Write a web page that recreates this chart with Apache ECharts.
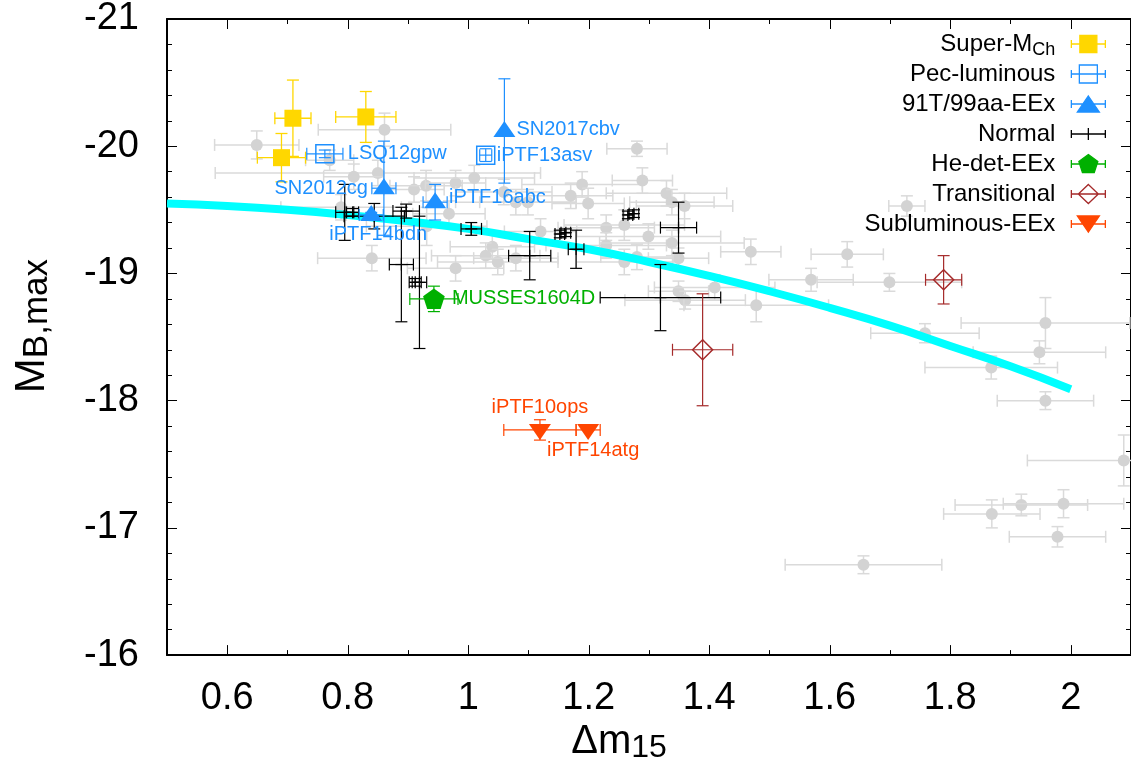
<!DOCTYPE html>
<html>
<head>
<meta charset="utf-8">
<script src="https://cdn.jsdelivr.net/npm/echarts@6/dist/echarts.min.js"></script>
<style>
  html, body { margin: 0; padding: 0; background: #fff; }
  #chart { width: 1131px; height: 769px; }
</style>
</head>
<body>
<div id="chart"></div>
<script>
// ---------- axis ticks ----------
const xTickValues = [0.6, 0.8, 1.0, 1.2, 1.4, 1.6, 1.8, 2.0];
const xMinorTickValues = [0.7, 0.9, 1.1, 1.3, 1.5, 1.7, 1.9];
const yTickValues = [-21, -20, -19, -18, -17, -16];

// ---------- width-luminosity relation ----------
const fitDm15 = [0.5, 0.6, 0.7, 0.8, 0.9, 1.0, 1.1, 1.2, 1.3, 1.4, 1.5, 1.6, 1.7, 1.8, 1.9, 2.0];
const fitMB = [-19.55, -19.53, -19.50, -19.46, -19.41, -19.35, -19.27, -19.19, -19.09, -18.98, -18.86, -18.73, -18.59, -18.43, -18.27, -18.09];

// ---------- comparison sample ----------
const sampleDm15 = [0.649, 0.861, 0.770, 0.850, 0.810, 0.910, 0.930, 0.979, 1.010, 0.840,
  0.979, 0.931, 0.968, 0.789, 1.040, 1.029, 1.049, 1.079, 1.059, 1.079,
  1.099, 1.120, 1.170, 1.189, 1.199, 1.229, 1.259, 1.229, 1.259, 1.280,
  1.289, 1.299, 1.329, 1.338, 1.359, 1.338, 1.349, 1.349, 1.360, 1.409,
  1.469, 1.478, 1.280, 1.728, 1.629, 1.569, 1.699, 1.758, 1.958, 1.948,
  1.868, 1.958, 2.088, 1.918, 1.988, 1.869, 1.978, 1.656];
const sampleDm15Err = [0.07, 0.11, 0.04, 0.27, 0.05, 0.05, 0.06, 0.05, 0.10, 0.09,
  0.08, 0.10, 0.06, 0.10, 0.07, 0.09, 0.10, 0.07, 0.08, 0.10,
  0.08, 0.06, 0.07, 0.10, 0.06, 0.08, 0.10, 0.10, 0.08, 0.05,
  0.05, 0.12, 0.10, 0.07, 0.08, 0.12, 0.05, 0.05, 0.10, 0.10,
  0.05, 0.12, 0.06, 0.03, 0.06, 0.07, 0.12, 0.09, 0.14, 0.11,
  0.11, 0.08, 0.16, 0.11, 0.10, 0.08, 0.08, 0.13];
const sampleMB = [-20.01, -20.13, -19.89, -19.79, -19.76, -19.66, -19.69, -19.71, -19.75, -19.12,
  -19.04, -19.37, -19.47, -19.52, -19.21, -19.14, -19.09, -19.12, -19.64, -19.56,
  -19.56, -19.33, -19.61, -19.70, -19.55, -19.36, -19.38, -19.22, -19.09, -19.98,
  -19.73, -19.29, -19.63, -19.56, -19.53, -19.24, -19.12, -18.86, -18.79, -18.89,
  -19.17, -18.75, -19.13, -19.53, -19.15, -18.95, -18.93, -18.53, -18.61, -18.38,
  -18.26, -18.00, -17.53, -17.18, -17.19, -17.11, -16.93, -16.71];
const sampleMBErr = [0.11, 0.13, 0.08, 0.10, 0.10, 0.10, 0.12, 0.10, 0.10, 0.10,
  0.10, 0.15, 0.10, 0.10, 0.10, 0.10, 0.10, 0.10, 0.10, 0.10,
  0.10, 0.10, 0.10, 0.10, 0.12, 0.10, 0.12, 0.10, 0.10, 0.06,
  0.10, 0.10, 0.10, 0.10, 0.10, 0.10, 0.08, 0.08, 0.07, 0.10,
  0.10, 0.13, 0.10, 0.08, 0.10, 0.09, 0.07, 0.075, 0.20, 0.09,
  0.09, 0.07, 0.20, 0.085, 0.11, 0.11, 0.08, 0.07];

// ---------- Super-MCh ----------
const superMchDm15 = [0.709, 0.830, 0.690];
const superMchDm15Err = [0.03, 0.05, 0.04];
const superMchMB = [-20.22, -20.23, -19.91];
const superMchMBErr = [0.30, 0.20, 0.19];

// ---------- Pec-luminous ----------
const pecLumNames = ['LSQ12gpw', 'iPTF13asv'];
const pecLumDm15 = [0.762, 1.029];
const pecLumDm15Err = [0.03, 0.01];
const pecLumMB = [-19.94, -19.93];
const pecLumMBErr = [0.03, 0.05];

// ---------- 91T/99aa-like early excess ----------
const eex91TNames = ['SN2017cbv', 'SN2012cg', 'iPTF16abc', 'iPTF14bdn'];
const eex91TDm15 = [1.060, 0.860, 0.945, 0.839];
const eex91TDm15Err = [0, 0.02, 0.02, 0.02];
const eex91TMB = [-20.12, -19.67, -19.56, -19.46];
const eex91TMBErr = [0.41, 0.37, 0.14, 0.02];

// ---------- Normal ----------
const normalDm15 = [0.795, 0.808, 0.844, 0.897, 0.889, 0.912, 0.919, 1.005, 1.102, 1.152,
  1.162, 1.179, 1.265, 1.275, 1.349, 1.319];
const normalDm15Err = [0.015, 0.010, 0.05, 0.022, 0.02, 0.010, 0.012, 0.017, 0.035, 0.008,
  0.008, 0.013, 0.008, 0.008, 0.03, 0.10];
const normalMB = [-19.48, -19.48, -19.45, -19.49, -19.07, -18.93, -18.93, -19.35, -19.14, -19.31,
  -19.32, -19.19, -19.46, -19.47, -19.36, -18.81];
const normalMBErr = [0.22, 0.03, 0.10, 0.055, 0.45, 0.03, 0.52, 0.05, 0.19, 0.03,
  0.03, 0.15, 0.03, 0.03, 0.20, 0.26];

// ---------- He-detonation early excess ----------
const heDetNames = ['MUSSES1604D'];
const heDetDm15 = [0.943];
const heDetDm15Err = [0.04];
const heDetMB = [-18.80];
const heDetMBErr = [0.10];

// ---------- Transitional ----------
const transDm15 = [1.389, 1.789];
const transDm15Err = [0.05, 0.03];
const transMB = [-18.40, -18.95];
const transMBErr = [0.44, 0.19];

// ---------- Subluminous early excess ----------
const sublumNames = ['iPTF10ops', 'iPTF14atg'];
const sublumDm15 = [1.119, 1.199];
const sublumDm15Err = [0.06, 0.02];
const sublumMB = [-17.77, -17.77];
const sublumMBErr = [0.08, 0];

// ---------- styling ----------
const FONT = '"Liberation Sans", Arial, Helvetica, sans-serif';
const CAP = 6;
const labelPlacement = {
  LSQ12gpw:   { dx: 23, dy: 0, align: 'left' },
  iPTF13asv:  { dx: 11, dy: 0, align: 'left' },
  SN2017cbv:  { dx: 12, dy: -1, align: 'left' },
  SN2012cg:   { dx: -16, dy: 0, align: 'right' },
  iPTF16abc:  { dx: 14, dy: -5, align: 'left' },
  iPTF14bdn:  { dx: 7, dy: 20, align: 'center' },
  MUSSES1604D:{ dx: 18, dy: 0, align: 'left' },
  iPTF10ops:  { dx: 0, dy: -22, align: 'center' },
  iPTF14atg:  { dx: 5, dy: 21, align: 'center' }
};

const ERRBAR_ICON = 'M0,0M1,10L35,10M1,6L1,14M35,6L35,14';
const ICON_END = 'M36,20';

function seg(x1, y1, x2, y2, style) {
  return { type: 'line', shape: { x1, y1, x2, y2 }, style };
}

function markerShape(kind, cx, cy, color) {
  switch (kind) {
    case 'circle':
      return { type: 'circle', shape: { cx, cy, r: 6 }, style: { fill: color } };
    case 'square':
      return { type: 'rect', shape: { x: cx - 8.5, y: cy - 8.5, width: 17, height: 17 }, style: { fill: color } };
    case 'openSquare':
      return { type: 'rect', shape: { x: cx - 9, y: cy - 9, width: 18, height: 18 },
        style: { fill: 'none', stroke: color, lineWidth: 1.5 } };
    case 'triangle':
      return { type: 'polygon', shape: { points: [[cx, cy - 10], [cx + 11, cy + 6], [cx - 11, cy + 6]] },
        style: { fill: color } };
    case 'downTriangle':
      return { type: 'polygon', shape: { points: [[cx - 11, cy - 6], [cx + 11, cy - 6], [cx, cy + 10]] },
        style: { fill: color } };
    case 'pentagon': {
      const pts = [];
      for (let k = 0; k < 5; k++) {
        const a = (-90 + 72 * k) * Math.PI / 180;
        pts.push([cx + 11.4 * Math.cos(a), cy + 1 + 11.4 * Math.sin(a)]);
      }
      return { type: 'polygon', shape: { points: pts }, style: { fill: color } };
    }
    case 'diamond':
      return { type: 'polygon', shape: { points: [[cx, cy - 10], [cx + 10, cy], [cx, cy + 10], [cx - 10, cy]] },
        style: { fill: 'none', stroke: color, lineWidth: 1.5 } };
    case 'plus':
      return { type: 'group', children: [
        seg(cx - 6, cy, cx + 6, cy, { stroke: color, lineWidth: 1.2 }),
        seg(cx, cy - 6, cx, cy + 6, { stroke: color, lineWidth: 1.2 })
      ] };
  }
  return null;
}

function errorBarSeries(g) {
  return {
    type: 'custom',
    name: g.name,
    z: g.z,
    clip: true,
    itemStyle: { color: g.color },
    data: g.dm15.map((x, i) => [x, g.mB[i]]),
    encode: { x: 0, y: 1 },
    renderItem: function (params, api) {
      const i = params.dataIndex;
      const x = g.dm15[i], xe = g.dm15Err[i], y = g.mB[i], ye = g.mBErr[i];
      const p = api.coord([x, y]);
      const bar = { stroke: g.barColor, lineWidth: g.barWidth };
      const children = [];
      if (xe > 0) {
        const l = api.coord([x - xe, y])[0];
        const r = api.coord([x + xe, y])[0];
        children.push(seg(l, p[1], r, p[1], bar),
          seg(l, p[1] - CAP, l, p[1] + CAP, bar),
          seg(r, p[1] - CAP, r, p[1] + CAP, bar));
      }
      if (ye > 0) {
        const t = api.coord([x, y - ye])[1];
        const b = api.coord([x, y + ye])[1];
        children.push(seg(p[0], t, p[0], b, bar),
          seg(p[0] - CAP, t, p[0] + CAP, t, bar),
          seg(p[0] - CAP, b, p[0] + CAP, b, bar));
      }
      children.push(markerShape(g.marker, p[0], p[1], g.color));
      if (g.names) {
        const nm = g.names[i];
        const lp = labelPlacement[nm];
        children.push({
          type: 'text', x: p[0] + lp.dx, y: p[1] + lp.dy, z2: 10,
          style: { text: nm, fill: g.color, fontSize: 20, fontFamily: FONT,
            align: lp.align, verticalAlign: 'middle' }
        });
      }
      return { type: 'group', children };
    }
  };
}

const groups = [
  { name: 'Super-MCh', dm15: superMchDm15, dm15Err: superMchDm15Err, mB: superMchMB, mBErr: superMchMBErr,
    marker: 'square', color: '#ffd700', barColor: '#ffd700', barWidth: 1.3, z: 4,
    icon: 'path://' + ERRBAR_ICON + 'M9.5,1.5L26.5,1.5L26.5,18.5L9.5,18.5Z' + ICON_END, iconFill: '#ffd700' },
  { name: 'Pec-luminous', names: pecLumNames, dm15: pecLumDm15, dm15Err: pecLumDm15Err, mB: pecLumMB, mBErr: pecLumMBErr,
    marker: 'openSquare', color: '#1e90ff', barColor: '#1e90ff', barWidth: 1.2, z: 4,
    icon: 'path://' + ERRBAR_ICON + 'M9,1L27,1L27,19L9,19Z' + ICON_END, iconFill: 'transparent' },
  { name: '91T/99aa-EEx', names: eex91TNames, dm15: eex91TDm15, dm15Err: eex91TDm15Err, mB: eex91TMB, mBErr: eex91TMBErr,
    marker: 'triangle', color: '#1e90ff', barColor: '#1e90ff', barWidth: 1.2, z: 4,
    icon: 'path://' + ERRBAR_ICON + 'M18,2L29,18L7,18Z' + ICON_END, iconFill: '#1e90ff' },
  { name: 'Normal', dm15: normalDm15, dm15Err: normalDm15Err, mB: normalMB, mBErr: normalMBErr,
    marker: 'plus', color: '#000000', barColor: '#000000', barWidth: 1.2, z: 3,
    icon: 'path://' + ERRBAR_ICON + 'M18,4L18,16' + ICON_END, iconFill: 'transparent' },
  { name: 'He-det-EEx', names: heDetNames, dm15: heDetDm15, dm15Err: heDetDm15Err, mB: heDetMB, mBErr: heDetMBErr,
    marker: 'pentagon', color: '#00b000', barColor: '#00b000', barWidth: 1.2, z: 4,
    icon: 'path://' + ERRBAR_ICON + 'M18,0.5L27.5,7.4L23.9,18.6L12.1,18.6L8.5,7.4Z' + ICON_END, iconFill: '#00b000' },
  { name: 'Transitional', dm15: transDm15, dm15Err: transDm15Err, mB: transMB, mBErr: transMBErr,
    marker: 'diamond', color: '#a52a2a', barColor: '#a52a2a', barWidth: 1.2, z: 4,
    icon: 'path://' + ERRBAR_ICON + 'M18,0.5L28,10L18,19.5L8,10Z' + ICON_END, iconFill: 'transparent' },
  { name: 'Subluminous-EEx', names: sublumNames, dm15: sublumDm15, dm15Err: sublumDm15Err, mB: sublumMB, mBErr: sublumMBErr,
    marker: 'downTriangle', color: '#ff4500', barColor: '#ff4500', barWidth: 1.2, z: 4,
    icon: 'path://' + ERRBAR_ICON + 'M7,2L29,2L18,18Z' + ICON_END, iconFill: '#ff4500' }
];

const sampleGroup = { name: 'sample', dm15: sampleDm15, dm15Err: sampleDm15Err, mB: sampleMB, mBErr: sampleMBErr,
  marker: 'circle', color: '#d3d3d3', barColor: '#dadada', barWidth: 1.5, z: 1 };

const axisCommon = { min: 0.5, max: 2.1, splitLine: { show: false } };

const chart = echarts.init(document.getElementById('chart'), null, { renderer: 'canvas' });
chart.setOption({
  animation: false,
  backgroundColor: '#ffffff',
  textStyle: { fontFamily: FONT },
  grid: { left: 167, top: 19, width: 966, height: 640 },
  legend: {
    orient: 'vertical', align: 'right', right: 24, top: 29, padding: 0,
    itemWidth: 36, itemHeight: 20, itemGap: 0, selectedMode: false,
    textStyle: {
      fontSize: 24, color: '#000', fontFamily: FONT, lineHeight: 30,
      rich: {
        n: { fontSize: 24, lineHeight: 30, fontFamily: FONT, color: '#000', padding: [0, 10, 0, 0] },
        m: { fontSize: 24, lineHeight: 30, fontFamily: FONT, color: '#000' },
        sub: { fontSize: 18, lineHeight: 14, verticalAlign: 'bottom', fontFamily: FONT, color: '#000', padding: [0, 10, 0, 0] }
      }
    },
    formatter: function (name) {
      if (name === 'Super-MCh') return '{m|Super-M}{sub|Ch}';
      return '{n|' + name + '}';
    },
    data: groups.map(g => ({
      name: g.name, icon: g.icon,
      itemStyle: { color: g.iconFill, borderColor: g.color, borderWidth: 1.3 }
    }))
  },
  xAxis: [
    Object.assign({}, axisCommon, {
      type: 'value', position: 'bottom',
      name: '{a|Δm}{s|15}', nameLocation: 'middle', nameGap: 56,
      nameTextStyle: {
        padding: [0, 60, 0, 0],
        rich: {
          a: { fontSize: 40, lineHeight: 44, fontFamily: FONT, color: '#000' },
          s: { fontSize: 32, lineHeight: 24, verticalAlign: 'bottom', fontFamily: FONT, color: '#000' }
        }
      },
      axisLine: { show: true, onZero: false, lineStyle: { color: '#000', width: 2 } },
      axisTick: { show: true, inside: true, length: 10, customValues: xTickValues, lineStyle: { color: '#000', width: 1 } },
      axisLabel: { customValues: xTickValues, fontSize: 38, color: '#000', fontFamily: FONT, margin: 24 }
    }),
    Object.assign({}, axisCommon, {
      type: 'value', position: 'bottom',
      axisLine: { show: false },
      axisTick: { show: true, inside: true, length: 5, customValues: xMinorTickValues, lineStyle: { color: '#000', width: 1 } },
      axisLabel: { show: false }
    }),
    Object.assign({}, axisCommon, {
      type: 'value', position: 'top',
      axisLine: { show: true, onZero: false, lineStyle: { color: '#000', width: 2 } },
      axisTick: { show: true, inside: true, length: 10, customValues: xTickValues, lineStyle: { color: '#000', width: 1 } },
      axisLabel: { show: false }
    }),
    Object.assign({}, axisCommon, {
      type: 'value', position: 'top',
      axisLine: { show: false },
      axisTick: { show: true, inside: true, length: 5, customValues: xMinorTickValues, lineStyle: { color: '#000', width: 1 } },
      axisLabel: { show: false }
    })
  ],
  yAxis: [
    {
      type: 'value', position: 'left', min: -21, max: -16, interval: 1, inverse: true,
      name: '{a|M}{s|B,max}', nameLocation: 'middle', nameRotate: 90, nameGap: 112,
      nameTextStyle: {
        padding: [0, 0, 0, 22],
        rich: {
          a: { fontSize: 42, lineHeight: 46, fontFamily: FONT, color: '#000' },
          s: { fontSize: 35, lineHeight: 26, verticalAlign: 'bottom', fontFamily: FONT, color: '#000' }
        }
      },
      splitLine: { show: false },
      axisLine: { show: true, onZero: false, lineStyle: { color: '#000', width: 2 } },
      axisTick: { show: true, inside: true, length: 10, customValues: yTickValues, lineStyle: { color: '#000', width: 1 } },
      minorTick: { show: true, splitNumber: 5, length: 5, lineStyle: { color: '#000', width: 1 } },
      axisLabel: { customValues: yTickValues, fontSize: 38, color: '#000', fontFamily: FONT, margin: 28 }
    },
    {
      type: 'value', position: 'right', min: -21, max: -16, interval: 1, inverse: true,
      splitLine: { show: false },
      axisLine: { show: true, onZero: false, lineStyle: { color: '#000', width: 2 } },
      axisTick: { show: true, inside: true, length: 10, lineStyle: { color: '#000', width: 1 } },
      minorTick: { show: true, splitNumber: 5, length: 5, lineStyle: { color: '#000', width: 1 } },
      axisLabel: { show: false }
    }
  ],
  series: [
    errorBarSeries(sampleGroup),
    {
      type: 'line', name: 'relation', z: 2, smooth: true, showSymbol: false, silent: true,
      data: fitDm15.map((x, i) => [x, fitMB[i]]),
      lineStyle: { color: '#00ffff', width: 8, cap: 'butt' }
    }
  ].concat(groups.map(errorBarSeries))
});
</script>
</body>
</html>
